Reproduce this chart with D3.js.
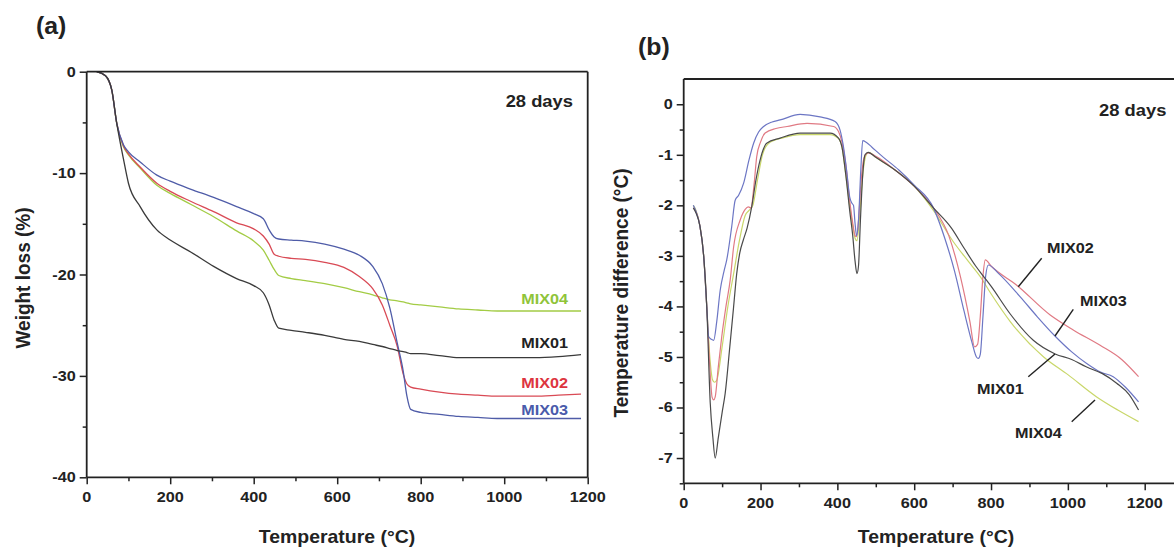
<!DOCTYPE html>
<html><head><meta charset="utf-8">
<script src="https://cdn.jsdelivr.net/npm/d3@7"></script>
<style>
html,body{margin:0;padding:0;background:#fff;}
svg{display:block;}
text{font-family:"Liberation Sans",Arial,Helvetica,sans-serif;font-weight:bold;}
</style></head>
<body>
<svg id="chart" width="1174" height="550"></svg>
<script>
// ---------- DATA ----------
const seriesNames = ["MIX01", "MIX02", "MIX03", "MIX04"];

// (a) TGA: weight loss (%) vs temperature (°C)
const tgaTemps = [24, 45, 60, 72, 88, 100, 128, 168, 200, 250, 304, 359, 400, 423, 437, 449, 460, 490, 524, 570, 616, 653, 685, 708, 726, 744, 758, 767, 776, 800, 845, 891, 937, 983, 1028, 1074, 1130, 1184];
const tgaMix01 = [0, -0.4, -1.8, -5.1, -8.6, -11.0, -13.3, -15.6, -16.6, -17.8, -19.2, -20.4, -21.1, -21.8, -23.0, -24.5, -25.3, -25.5, -25.7, -26.0, -26.4, -26.6, -26.9, -27.1, -27.3, -27.5, -27.6, -27.7, -27.8, -27.8, -28.0, -28.2, -28.2, -28.2, -28.2, -28.2, -28.1, -27.9];
const tgaMix02 = [0, -0.4, -1.8, -5.1, -7.3, -8.1, -9.4, -11.0, -11.8, -12.8, -13.8, -14.9, -15.5, -16.2, -17.0, -18.0, -18.2, -18.4, -18.5, -18.8, -19.3, -20.2, -21.4, -23.0, -25.0, -27.1, -29.8, -30.8, -31.1, -31.3, -31.6, -31.8, -31.9, -32.0, -32.0, -32.0, -31.9, -31.8];
const tgaMix03 = [0, -0.4, -1.8, -5.1, -7.2, -7.9, -8.9, -10.2, -10.8, -11.6, -12.4, -13.3, -14.0, -14.5, -15.6, -16.3, -16.5, -16.6, -16.7, -17.0, -17.5, -18.1, -19.2, -20.9, -23.3, -26.8, -29.5, -32.0, -33.3, -33.6, -33.8, -34.0, -34.1, -34.2, -34.2, -34.2, -34.2, -34.2];
const tgaMix04 = [0, -0.4, -1.8, -5.1, -7.4, -8.2, -9.5, -11.2, -12.0, -13.1, -14.3, -15.7, -16.7, -17.6, -18.6, -19.5, -20.1, -20.4, -20.6, -20.9, -21.3, -21.7, -22.0, -22.3, -22.5, -22.6, -22.7, -22.8, -22.9, -23.0, -23.2, -23.4, -23.5, -23.6, -23.6, -23.6, -23.6, -23.6];

// (b) DTA: temperature difference (°C) vs temperature (°C)
const dtaMix01T = [25, 32, 42, 52, 60, 69, 76, 82, 90, 100, 108, 120, 130, 138, 146, 155, 165, 177, 188, 199, 216, 251, 303, 381, 403, 412, 422, 432, 440, 446, 451, 455, 460, 466, 472, 480, 500, 550, 600, 650, 697, 730, 760, 780, 800, 850, 910, 967, 1010, 1049, 1090, 1127, 1160, 1184];
const dtaMix01V = [-2.05, -2.15, -2.4, -3.0, -4.0, -5.9, -6.6, -7.0, -6.6, -6.1, -5.72, -4.8, -4.0, -3.35, -2.94, -2.69, -2.45, -2.03, -1.5, -1.1, -0.77, -0.67, -0.57, -0.57, -0.67, -0.85, -1.4, -2.1, -2.6, -3.1, -3.35, -3.2, -2.3, -1.4, -1.0, -0.95, -1.05, -1.3, -1.62, -2.05, -2.45, -2.85, -3.2, -3.4, -3.6, -4.15, -4.67, -4.94, -5.05, -5.2, -5.33, -5.52, -5.75, -6.05];
const dtaMix02T = [25, 32, 42, 52, 60, 68, 74, 78, 82, 90, 99, 110, 121, 130, 147, 160, 168, 175, 183, 190, 200, 212, 240, 269, 321, 390, 403, 412, 422, 432, 440, 446, 450, 455, 462, 470, 480, 500, 550, 600, 650, 690, 720, 745, 757, 765, 772, 779, 785, 800, 867, 954, 1015, 1084, 1140, 1184];
const dtaMix02V = [-2.05, -2.12, -2.4, -3.0, -4.0, -5.2, -5.8, -5.85, -5.79, -5.2, -4.6, -4.0, -3.48, -2.82, -2.29, -2.08, -2.03, -2.05, -1.6, -1.04, -0.75, -0.57, -0.48, -0.44, -0.38, -0.44, -0.54, -0.75, -1.2, -1.9, -2.35, -2.6, -2.62, -2.3, -1.5, -1.05, -0.96, -1.03, -1.3, -1.62, -2.05, -2.6, -3.4, -4.3, -4.8, -4.75, -4.2, -3.4, -3.08, -3.2, -3.58, -4.17, -4.47, -4.77, -5.05, -5.39];
const dtaMix03T = [25, 32, 42, 52, 60, 65, 72, 78, 86, 95, 105, 112, 125, 134, 143, 156, 170, 182, 195, 208, 230, 251, 303, 355, 394, 407, 415, 424, 432, 438, 442, 446, 450, 455, 461, 466, 475, 490, 520, 560, 600, 650, 680, 705, 730, 750, 762, 767, 772, 779, 786, 793, 820, 876, 920, 967, 1010, 1049, 1085, 1118, 1150, 1184];
const dtaMix03V = [-2.0, -2.12, -2.4, -3.0, -4.0, -4.6, -4.65, -4.67, -4.3, -3.68, -3.3, -3.08, -2.42, -1.9, -1.8, -1.56, -1.1, -0.77, -0.55, -0.44, -0.35, -0.31, -0.2, -0.25, -0.34, -0.51, -0.8, -1.3, -1.83, -1.96, -2.0, -2.35, -2.6, -2.3, -1.3, -0.72, -0.75, -0.85, -1.05, -1.3, -1.6, -2.05, -2.66, -3.3, -4.1, -4.7, -5.0, -5.03, -4.95, -4.2, -3.4, -3.18, -3.35, -3.81, -4.2, -4.59, -4.9, -5.13, -5.3, -5.39, -5.6, -5.89];
const dtaMix04T = [25, 32, 42, 52, 60, 68, 75, 80, 86, 100, 115, 130, 145, 160, 170, 180, 192, 205, 220, 260, 303, 381, 403, 412, 422, 432, 440, 446, 451, 458, 466, 475, 482, 500, 550, 600, 650, 700, 740, 772, 800, 850, 937, 1000, 1075, 1130, 1184];
const dtaMix04V = [-2.0, -2.1, -2.4, -3.0, -4.0, -5.0, -5.45, -5.5, -5.46, -4.8, -4.0, -3.35, -2.7, -2.2, -2.1, -2.0, -1.5, -1.0, -0.78, -0.66, -0.6, -0.6, -0.68, -0.85, -1.4, -2.0, -2.4, -2.65, -2.7, -2.2, -1.4, -1.0, -0.95, -1.05, -1.3, -1.62, -2.1, -2.7, -3.1, -3.41, -3.75, -4.3, -5.0, -5.35, -5.79, -6.05, -6.28];

// ticks
const xMajorTicks = [0, 200, 400, 600, 800, 1000, 1200];
const xMinorTicks = [100, 300, 500, 700, 900, 1100];
const tgaYMajor = [0, -10, -20, -30, -40];
const tgaYMinor = [-5, -15, -25, -35];
const dtaYMajor = [0, -1, -2, -3, -4, -5, -6, -7];
const dtaYMinor = [-0.5, -1.5, -2.5, -3.5, -4.5, -5.5, -6.5, -7.5];

// ---------- STYLE ----------
const tgaColors = {MIX01: "#3a3a3a", MIX02: "#d94a55", MIX03: "#4f5ca8", MIX04: "#a3cc45"};
const tgaLabelColors = {MIX01: "#222", MIX02: "#dd3540", MIX03: "#4a5bab", MIX04: "#8fc43a"};
const dtaColors = {MIX01: "#4a4a4a", MIX02: "#e07a84", MIX03: "#6c76c4", MIX04: "#c9d76a"};
const SX = 1.08; // horizontal stretch of text
const axisColor = "#222";

const svg = d3.select("#chart");

function stretchedText(g, x, y, str, opts) {
  const o = Object.assign({size: 15, anchor: "start", fill: "#222", rotate: 0}, opts || {});
  const t = g.append("text")
    .attr("transform", `translate(${x},${y}) scale(${SX},1)` + (o.rotate ? ` rotate(${o.rotate})` : ""))
    .attr("text-anchor", o.anchor)
    .attr("font-size", o.size)
    .attr("fill", o.fill)
    .text(str);
  if (o.baseline) t.attr("dominant-baseline", o.baseline);
  return t;
}

function drawAxes(x, y, yMajor, yMinor, rightEdge, drawRight) {
  const g = svg.append("g");
  const [x0] = x.range();
  const [yTop, yBot] = [y.range()[0], y.range()[1]];
  // bottom axis
  const bx = g.append("g").attr("transform", `translate(0,${yBot})`);
  bx.call(d3.axisBottom(x).tickValues(xMajorTicks).tickSize(7).tickFormat(""));
  bx.append("g").call(d3.axisBottom(x).tickValues(xMinorTicks).tickSize(4).tickFormat(""));
  bx.selectAll(".domain").remove();
  bx.selectAll("line").attr("stroke", axisColor).attr("stroke-width", 1.5);
  // left axis
  const ly = g.append("g").attr("transform", `translate(${x0},0)`);
  ly.call(d3.axisLeft(y).tickValues(yMajor).tickSize(7).tickFormat(""));
  ly.append("g").call(d3.axisLeft(y).tickValues(yMinor).tickSize(4).tickFormat(""));
  ly.selectAll(".domain").remove();
  ly.selectAll("line").attr("stroke", axisColor).attr("stroke-width", 1.5);
  // frame
  g.append("line").attr("x1", x0).attr("x2", rightEdge).attr("y1", yBot).attr("y2", yBot).attr("stroke", axisColor).attr("stroke-width", 1.8);
  g.append("line").attr("x1", x0).attr("x2", rightEdge).attr("y1", yTop).attr("y2", yTop).attr("stroke", axisColor).attr("stroke-width", 1.8);
  g.append("line").attr("x1", x0).attr("x2", x0).attr("y1", yTop).attr("y2", yBot).attr("stroke", axisColor).attr("stroke-width", 1.8);
  if (drawRight) g.append("line").attr("x1", rightEdge).attr("x2", rightEdge).attr("y1", yTop).attr("y2", yBot).attr("stroke", axisColor).attr("stroke-width", 1.8);
  // tick labels
  xMajorTicks.forEach(v => stretchedText(g, x(v), yBot + 25, String(v), {size: 15, anchor: "middle"}));
  yMajor.forEach(v => stretchedText(g, x0 - 11, y(v) + 5, String(v), {size: 15, anchor: "end"}));
  return g;
}

// ---------- PANEL (a) ----------
const xa = d3.scaleLinear().domain([0, 1200]).range([86.7, 587.7]);
const ya = d3.scaleLinear().domain([0, -40]).range([71.7, 477.3]);
const tgaSeries = {MIX01: tgaMix01, MIX02: tgaMix02, MIX03: tgaMix03, MIX04: tgaMix04};
const lineA = d3.line().x(d => xa(d[0])).y(d => ya(d[1])).curve(d3.curveMonotoneX);
["MIX04", "MIX02", "MIX03", "MIX01"].forEach(name => {
  const pts = tgaTemps.map((t, i) => [t, tgaSeries[name][i]]);
  svg.append("path").attr("d", lineA(pts)).attr("fill", "none")
    .attr("stroke", tgaColors[name]).attr("stroke-width", 1.3);
});
const gA = drawAxes(xa, ya, tgaYMajor, tgaYMinor, xa(1200), true);
stretchedText(gA, 337, 543, "Temperature (°C)", {size: 18, anchor: "middle"});
stretchedText(gA, 30, 278, "Weight loss (%)", {size: 19, anchor: "middle", rotate: -90});
stretchedText(gA, 36, 34, "(a)", {size: 23});
stretchedText(gA, 573, 107, "28 days", {size: 17, anchor: "end"});
const tgaLabelY = {MIX04: -23.1, MIX01: -27.5, MIX02: -31.4, MIX03: -34.1};
const tgaLabelDy = {MIX04: 5, MIX01: 5, MIX02: 5, MIX03: 5};
[["MIX04", 303.5], ["MIX01", 348], ["MIX02", 388], ["MIX03", 415]].forEach(([n, yy]) => {
  stretchedText(gA, 568, yy, n, {size: 15, anchor: "end", fill: tgaLabelColors[n]});
});

// ---------- PANEL (b) ----------
const xb = d3.scaleLinear().domain([0, 1200]).range([683.7, 1144.7]);
const yb = d3.scaleLinear().domain([0.5, -7.5]).range([79, 483.3]);
const dtaSeries = {
  MIX01: [dtaMix01T, dtaMix01V], MIX02: [dtaMix02T, dtaMix02V],
  MIX03: [dtaMix03T, dtaMix03V], MIX04: [dtaMix04T, dtaMix04V]
};
const lineB = d3.line().x(d => xb(d[0])).y(d => yb(d[1])).curve(d3.curveMonotoneX);
["MIX04", "MIX02", "MIX03", "MIX01"].forEach(name => {
  const [ts, vs] = dtaSeries[name];
  const pts = ts.map((t, i) => [t, vs[i]]);
  svg.append("path").attr("d", lineB(pts)).attr("fill", "none")
    .attr("stroke", dtaColors[name]).attr("stroke-width", 1.2);
});
const gB = drawAxes(xb, yb, dtaYMajor, dtaYMinor, 1180, false);
stretchedText(gB, 936, 543, "Temperature (°C)", {size: 18, anchor: "middle"});
stretchedText(gB, 628, 293, "Temperature difference (°C)", {size: 19, anchor: "middle", rotate: -90});
stretchedText(gB, 638, 55, "(b)", {size: 23});
stretchedText(gB, 1099, 116, "28 days", {size: 17});
// annotation labels with leader lines (label position, leader from label toward curve)
const dtaAnno = [
  {name: "MIX02", lx: 1047, ly: 252.5, x1: 1041.7, y1: 258.3, x2: 1018.3, y2: 286.7},
  {name: "MIX03", lx: 1080, ly: 306, x1: 1073.3, y1: 309.3, x2: 1055, y2: 336},
  {name: "MIX01", lx: 977, ly: 393.5, x1: 1028.3, y1: 376.7, x2: 1055, y2: 354},
  {name: "MIX04", lx: 1015, ly: 437.5, x1: 1071.7, y1: 421.7, x2: 1095, y2: 400}
];
dtaAnno.forEach(a => {
  stretchedText(gB, a.lx, a.ly, a.name, {size: 15});
  gB.append("line").attr("x1", a.x1).attr("y1", a.y1).attr("x2", a.x2).attr("y2", a.y2)
    .attr("stroke", "#222").attr("stroke-width", 1.4);
});
</script>
</body></html>
